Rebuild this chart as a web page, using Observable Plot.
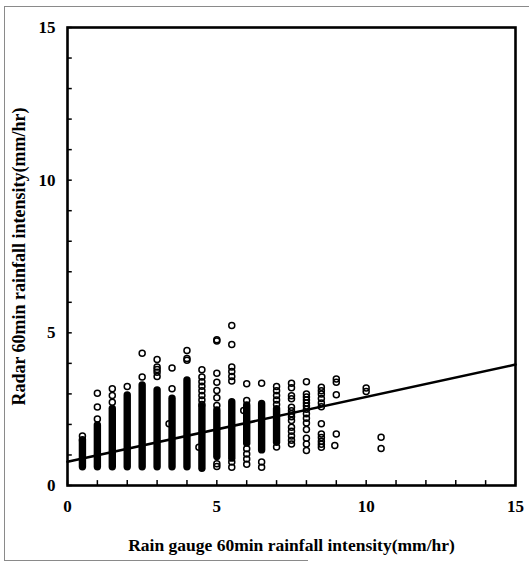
<!DOCTYPE html>
<html>
<head>
<meta charset="utf-8">
<script src="https://cdn.jsdelivr.net/npm/d3@7"></script>
<script src="https://cdn.jsdelivr.net/npm/@observablehq/plot@0.6"></script>
<style>
  html, body { margin: 0; padding: 0; background: #fff; }
  #wrap { position: relative; width: 529px; height: 563px; overflow: hidden; }
  .bl { position: absolute; background: #8a8a8a; }
  svg { font-family: "Liberation Serif", "Times New Roman", serif; }
</style>
</head>
<body>
<div id="wrap">
  <div class="bl" style="left:4px; top:6px; width:1px; height:555px;"></div>
  <div class="bl" style="left:4px; top:6px; width:525px; height:1px;"></div>
  <div class="bl" style="left:4px; top:560px; width:304px; height:1px;"></div>
</div>
<script>
// Tick labels and minor tick positions
const tickLabels = [0, 5, 10, 15];
const minorTicks = [0,1,2,3,4,5,6,7,8,9,10,11,12,13,14,15];

// Dense (overplotted) columns: gauge value, lowest and highest radar value of the solid stack
const denseX    = [0.5, 1,    1.5,  2,    2.5,  3,    3.5,  4,    4.5,  5,    5.5,  6,    6.5,  7];
const denseLow  = [0.6, 0.6,  0.6,  0.6,  0.6,  0.6,  0.6,  0.6,  0.55, 0.93, 0.88, 1.37, 1.15, 1.4];
const denseHigh = [1.45,1.97, 2.51, 2.95, 3.28, 3.11, 2.84, 3.44, 2.57, 2.46, 2.73, 2.62, 2.67, 2.5];

// Individually visible circles, per gauge column
const sparseX = [0.5, 1, 1.5, 2, 2.5, 3, 3.5, 4, 4.5, 5, 5.5, 6, 6.5, 7, 7.5, 8, 8.5, 9, 10, 10.5];
const sparseY = [
  [1.5, 1.62],
  [2.18, 2.57, 3.02],
  [2.73, 2.95, 3.17],
  [3.24],
  [3.55, 4.33],
  [3.57, 3.71, 3.8, 3.88, 4.13],
  [3.17, 3.85],
  [4.1, 4.16, 4.42],
  [3.79, 3.55, 3.4, 3.25, 3.1, 2.95, 2.8, 2.65],
  [4.73, 4.77, 3.68, 3.38, 3.11, 2.87, 2.62, 0.71, 0.62],
  [5.24, 4.62, 3.88, 3.73, 3.57, 3.42, 0.77, 0.6],
  [3.33, 2.78, 1.2, 1.03, 0.87, 0.7],
  [3.35, 0.77, 0.6],
  [3.24, 3.1, 2.95, 2.8, 2.65, 1.26],
  [3.35, 3.2, 2.94, 2.84, 2.56, 2.45, 2.35, 2.25, 2.13, 1.91, 1.78, 1.62, 1.48, 1.36],
  [3.4, 3.0, 2.9, 2.8, 2.7, 2.6, 2.5, 2.35, 2.2, 2.05, 1.83, 1.55, 1.36, 1.15],
  [3.22, 3.1, 3.0, 2.85, 2.7, 2.58, 2.02, 1.69, 1.57, 1.45, 1.35, 1.25],
  [3.49, 3.38, 2.97, 1.69],
  [3.19, 3.08],
  [1.58, 1.21]
];
// A few circles slightly off the half-unit grid
const offGridX = [3.4, 4.4, 5.9, 8.95];
const offGridY = [2.02, 1.25, 2.46, 1.31];

// Linear fit
const fitIntercept = 0.78;
const fitSlope = 0.212;
const fitX = [0, 15];

const dense = denseX.map((x, i) => ({x, lo: denseLow[i], hi: denseHigh[i]}));
const points = sparseX.flatMap((x, i) => sparseY[i].map(y => ({x, y})))
  .concat(offGridX.map((x, i) => ({x, y: offGridY[i]})));
const fit = fitX.map(x => ({x, y: fitIntercept + fitSlope * x}));

const chart = Plot.plot({
  width: 529,
  height: 563,
  marginLeft: 67,
  marginRight: 14,
  marginTop: 27,
  marginBottom: 78,
  style: {fontFamily: '"Liberation Serif", "Times New Roman", serif', background: "transparent"},
  x: {domain: [0, 15]},
  y: {domain: [0, 15]},
  marks: [
    Plot.ruleX(dense, {x: "x", y1: "lo", y2: "hi", stroke: "#000", strokeWidth: 7.4, strokeLinecap: "round"}),
    Plot.dot(points, {x: "x", y: "y", r: 3, stroke: "#000", strokeWidth: 1.5, fill: "none"}),
    Plot.line(fit, {x: "x", y: "y", stroke: "#000", strokeWidth: 2.6}),
    // inward minor ticks
    Plot.ruleX(minorTicks, {x: d => d, y1: 0, y2: 0.16, stroke: "#000", strokeWidth: 1.5}),
    Plot.ruleY(minorTicks, {y: d => d, x1: 0, x2: 0.16, stroke: "#000", strokeWidth: 1.5}),
    Plot.frame({stroke: "#000", strokeWidth: 2.6}),
    Plot.axisX({ticks: tickLabels, tickSize: 0, tickPadding: 14, fontSize: 17, fontWeight: "bold", label: null}),
    Plot.axisY({ticks: tickLabels, tickSize: 0, tickPadding: 12, fontSize: 17, fontWeight: "bold", label: null}),
    Plot.text(["Rain gauge 60min rainfall intensity(mm/hr)"], {frameAnchor: "bottom", dy: 60, text: d => d, fontSize: 17.5, fontWeight: "bold", lineAnchor: "middle", textAnchor: "middle"}),
    Plot.text(["Radar 60min rainfall intensity(mm/hr)"], {frameAnchor: "left", dx: -48, text: d => d, fontSize: 18, fontWeight: "bold", rotate: -90, lineAnchor: "middle", textAnchor: "middle"})
  ]
});
document.getElementById("wrap").appendChild(chart);
chart.style.position = "absolute";
chart.style.left = "0px";
chart.style.top = "0px";
</script>
</body>
</html>
